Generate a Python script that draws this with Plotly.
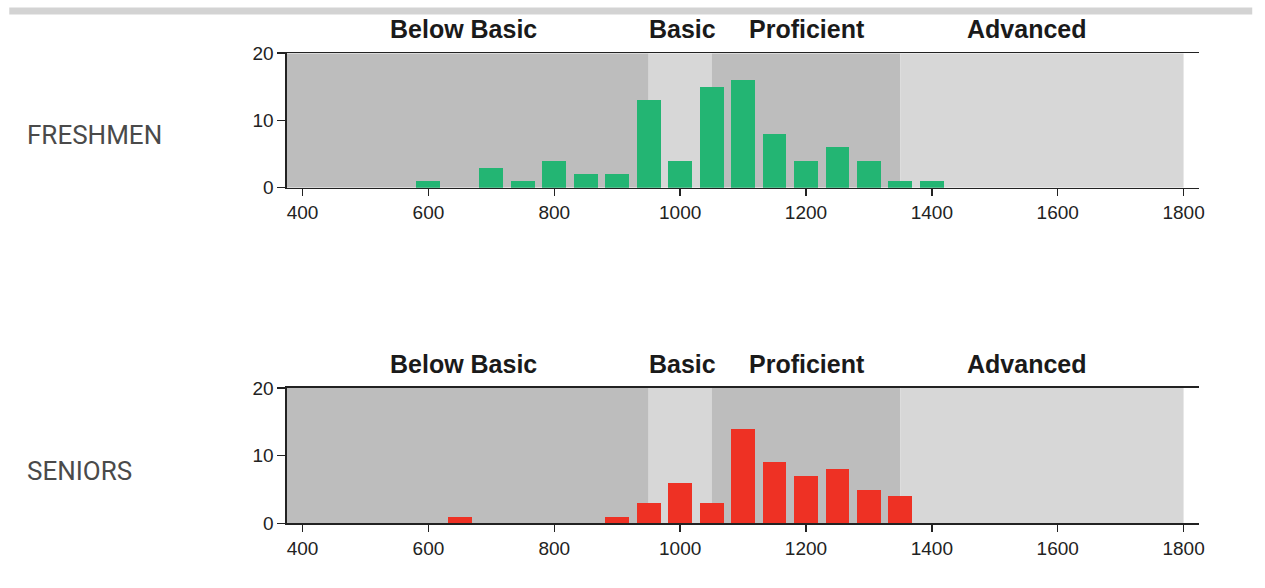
import plotly.graph_objects as go

W, H = 1265, 588

# Data
fresh_scores = [600, 700, 750, 800, 850, 900, 950, 1000, 1050, 1100, 1150, 1200, 1250, 1300, 1350, 1400]
fresh_counts = [1, 3, 1, 4, 2, 2, 13, 4, 15, 16, 8, 4, 6, 4, 1, 1]
senior_scores = [650, 900, 950, 1000, 1050, 1100, 1150, 1200, 1250, 1300, 1350]
senior_counts = [1, 1, 3, 6, 3, 14, 9, 7, 8, 5, 4]

band_names = ["Below Basic", "Basic", "Proficient", "Advanced"]
band_edges = [375, 950, 1050, 1350, 1800]
band_label_x = [655, 1004, 1202, 1550]
band_colors = ["#bdbdbd", "#d7d7d7", "#bdbdbd", "#d7d7d7"]
x_ticks = [400, 600, 800, 1000, 1200, 1400, 1600, 1800]
y_ticks = [0, 10, 20]
groups = ["FRESHMEN", "SENIORS"]


def py(px):
    # pixel row (from top) -> paper fraction, with correction for the capture's vertical scaling
    return 1 - ((px - 8.6) / 0.968) / H


def pxx(px):
    return ((px + 1.3) / 0.9977) / W


fig = go.Figure()
fig.add_trace(go.Bar(x=fresh_scores, y=fresh_counts, width=38, marker=dict(color="#23b573", line=dict(width=0)),
                     xaxis="x", yaxis="y", showlegend=False, hoverinfo="skip"))
fig.add_trace(go.Bar(x=senior_scores, y=senior_counts, width=38, marker=dict(color="#ee3124", line=dict(width=0)),
                     xaxis="x2", yaxis="y2", showlegend=False, hoverinfo="skip"))

tickfont = dict(family="Liberation Sans, Arial, sans-serif", size=19, color="#222")
xcommon = dict(range=[375, 1825], tickvals=x_ticks, ticks="outside", ticklen=7, tickwidth=1.5, tickcolor="#222",
               showline=True, linecolor="#222", linewidth=1.5, mirror=True, showgrid=False, zeroline=False,
               tickfont=tickfont)
ycommon = dict(range=[0, 20], tickvals=y_ticks, ticks="outside", ticklen=8, tickwidth=1.5, tickcolor="#222",
               showline=True, linecolor="#222", linewidth=1.5, mirror=False, showgrid=False, zeroline=False,
               tickfont=tickfont)

xdom = [pxx(286), pxx(1200)]
domains = [[py(187), py(52)], [py(524), py(388)]]
fig.update_layout(
    width=W, height=H,
    margin=dict(l=0, r=0, t=0, b=0),
    paper_bgcolor="white", plot_bgcolor="white",
    bargap=0,
    xaxis=dict(domain=xdom, anchor="y", **xcommon),
    yaxis=dict(domain=domains[0], anchor="x", **ycommon),
    xaxis2=dict(domain=xdom, anchor="y2", **xcommon),
    yaxis2=dict(domain=domains[1], anchor="x2", **ycommon),
)

shapes = []
annotations = []
# top gray rule
shapes.append(dict(type="rect", xref="paper", yref="paper", x0=pxx(8), x1=pxx(1253), y0=py(13), y1=py(6),
                   fillcolor="#d3d3d3", line=dict(width=0), layer="below"))
label_y = [py(28), py(364)]
group_y = [py(134), py(471)]
for k, (xr, yr) in enumerate([("x", "y"), ("x2", "y2")]):
    for i in range(len(band_names)):
        shapes.append(dict(type="rect", xref=xr, yref=yr, x0=band_edges[i], x1=band_edges[i + 1], y0=0, y1=20,
                           fillcolor=band_colors[i], line=dict(width=0), layer="below"))
        annotations.append(dict(text="<b>" + band_names[i] + "</b>", xref=xr, yref="paper", x=band_label_x[i],
                                y=label_y[k], xanchor="center", yanchor="middle", showarrow=False,
                                font=dict(family="Liberation Sans, Arial, sans-serif", size=25, color="#1a1a1a")))
    annotations.append(dict(text=groups[k], xref="paper", yref="paper", x=pxx(24), y=group_y[k],
                            xanchor="left", yanchor="middle", showarrow=False,
                            font=dict(family="Roboto, sans-serif", size=26, color="#4a4a4a")))

fig.update_layout(shapes=shapes, annotations=annotations)
js = ("var d=document.documentElement,b=document.body;"
      "d.style.margin='0';d.style.padding='0';d.style.overflow='hidden';"
      "b.style.margin='0';b.style.padding='0';b.style.overflow='hidden';")
fig.write_html("out.html", config={"displayModeBar": False, "staticPlot": True}, post_script=js)
